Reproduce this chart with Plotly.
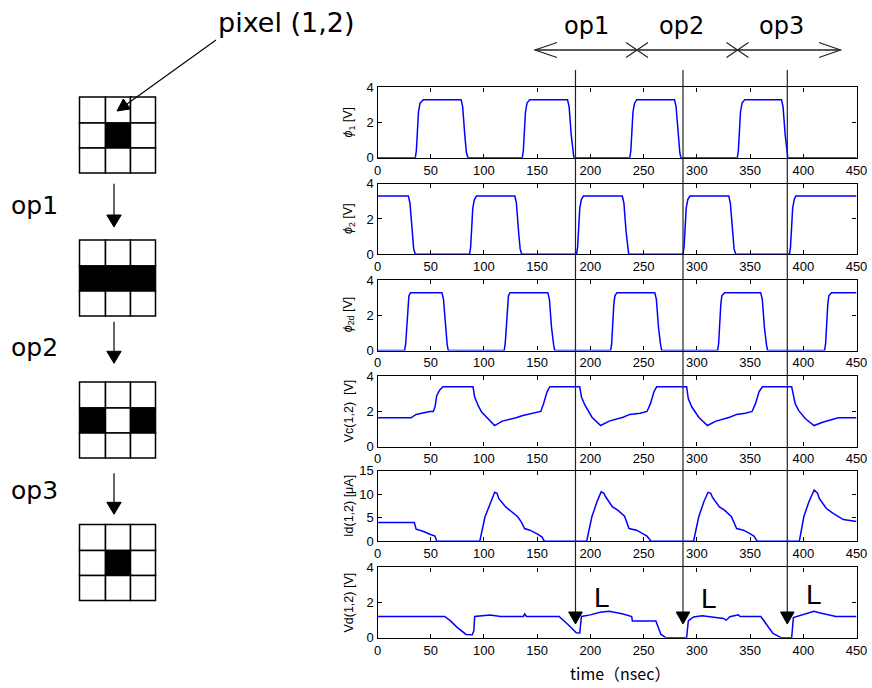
import plotly.graph_objects as go

W, H = 872, 688

# ---------------- data ----------------
X_TICKS = [0, 50, 100, 150, 200, 250, 300, 350, 400, 450]

PHI1_T = [0, 35.5, 36.5, 38.5, 40, 43, 78.5, 80, 82, 83.5, 85,
          136, 137, 139, 140.5, 143, 178.5, 180, 182, 183.5, 184.5,
          237, 238, 240, 241.5, 243.5, 279, 280.5, 282.5, 284, 285,
          338, 339, 341, 342.5, 345, 379.5, 381, 383, 384.5, 385.5, 450]
PHI1_V = [0, 0, 0.4, 2.6, 3.1, 3.3, 3.3, 2.9, 1.3, 0.3, 0,
          0, 0.4, 2.6, 3.1, 3.3, 3.3, 2.9, 1.3, 0.3, 0,
          0, 0.4, 2.6, 3.1, 3.3, 3.3, 2.9, 1.3, 0.3, 0,
          0, 0.4, 2.6, 3.1, 3.3, 3.3, 2.9, 1.3, 0.3, 0, 0]

PHI2_T = [0, 29, 30.5, 32.5, 34, 35.5,
          86.5, 87.5, 89.5, 91, 93, 129, 130.5, 132.5, 134, 135.5,
          187, 188, 190, 191.5, 193.5, 230, 231.5, 233.5, 235, 236,
          287, 288, 290, 291.5, 293.5, 330, 331.5, 333.5, 335, 336.5,
          387, 388, 390, 391.5, 393, 450]
PHI2_V = [3.3, 3.3, 2.9, 1.3, 0.3, 0,
          0, 0.4, 2.6, 3.1, 3.3, 3.3, 2.9, 1.3, 0.3, 0,
          0, 0.4, 2.6, 3.1, 3.3, 3.3, 2.9, 1.3, 0.3, 0,
          0, 0.4, 2.6, 3.1, 3.3, 3.3, 2.9, 1.3, 0.3, 0,
          0, 0.4, 2.6, 3.1, 3.3, 3.3]

PHI2D_T = [0, 25.5, 26.5, 28.5, 29.5, 31, 60.5, 62, 64, 65.5, 66.5,
           119, 120, 122, 123, 124.5, 160, 161.5, 163.5, 165.5, 166.5,
           219, 220, 222, 223, 225, 260.5, 262, 264, 266, 267,
           319.5, 320.5, 322.5, 323.5, 326, 360, 361.5, 363.5, 365.5, 366.5,
           420, 421, 423, 424, 426.5, 450]
PHI2D_V = [0, 0, 0.4, 2.6, 3.1, 3.28, 3.28, 2.9, 1.3, 0.3, 0,
           0, 0.4, 2.6, 3.1, 3.28, 3.28, 2.9, 1.3, 0.3, 0,
           0, 0.4, 2.6, 3.1, 3.28, 3.28, 2.9, 1.3, 0.3, 0,
           0, 0.4, 2.6, 3.1, 3.28, 3.28, 2.9, 1.3, 0.3, 0,
           0, 0.4, 2.6, 3.1, 3.28, 3.28]

VC_T = [0, 31.4, 36.3, 42.7, 49, 52.4, 54, 55.7, 58.3, 61.5,
        89.7, 91.3, 94.5, 97.8, 104.2, 110,
        117.2, 123.7, 130.1, 136.6, 143, 149.5, 153.4, 156, 159.3, 161.9,
        190, 191.6, 195, 201.5, 209.6, 217.7, 230.7, 237, 246.8, 253.2, 256.4, 259.7, 262.3,
        290.4, 292, 295.3, 301.8, 309.9, 318, 330.9, 337.4, 345.5, 351.9, 355.1, 358.4, 361.6,
        389.1, 392.4, 395.6, 402, 410.1, 418.2, 427.9, 432.8, 450]
VC_V = [1.63, 1.63, 1.82, 1.91, 1.99, 1.99, 2.24, 2.9, 3.2, 3.39,
        3.39, 2.81, 2.33, 1.95, 1.53, 1.19,
        1.44, 1.53, 1.63, 1.76, 1.86, 1.95, 1.99, 2.43, 3.1, 3.39,
        3.39, 2.81, 2.33, 1.66, 1.19, 1.44, 1.66, 1.82, 1.89, 1.99, 2.43, 3.1, 3.39,
        3.39, 2.71, 2.24, 1.66, 1.19, 1.44, 1.66, 1.82, 1.89, 1.99, 2.43, 3.1, 3.39,
        3.39, 2.43, 2.05, 1.57, 1.19, 1.38, 1.57, 1.63, 1.63]

ID_T = [0, 34.6, 36.3, 42.7, 49.2, 54, 55.7,
        96.1, 101, 105.9, 110.1, 112.3, 113.9, 120.4, 123.7, 131.8, 135, 138.2, 143.1, 149.6, 154.4, 156.7,
        196.5, 201.4, 206.2, 210.1, 212.7, 214.3, 220.8, 225.7, 232.1, 236.3, 243.4, 248.3, 253.2, 257,
        296.9, 301.8, 306.6, 310.5, 313.1, 314.7, 321.2, 326, 332.5, 337.4, 343.8, 348.7, 353.6, 356.8,
        396.3, 400.5, 405.3, 410.2, 413.4, 415, 421.5, 428, 432.8, 437.7, 450]
ID_V = [3.98, 3.98, 2.56, 2.13, 1.49, 1.07, 0,
        0, 5.2, 8.0, 10.4, 10.2, 9.1, 7.3, 6.75, 5.2, 4.1, 2.7, 2.35, 1.63, 0.92, 0,
        0, 5.2, 8.4, 10.5, 10.2, 9.45, 7.3, 6.6, 5.3, 2.7, 2.35, 1.78, 1.07, 0,
        0, 5.2, 8.4, 10.4, 10.2, 9.3, 7.3, 6.6, 5.2, 2.7, 2.35, 1.78, 1.07, 0,
        0, 5.2, 8.4, 10.9, 10.2, 9.1, 7.0, 5.9, 5.2, 4.6, 4.2]

VD_T = [0, 63.1, 68.6, 75.1, 83.2, 89, 90.5, 91.3, 105.9, 115.6, 137, 138.3, 139.9, 170.6,
        178.7, 186.8, 190, 191.6, 200, 209, 217.7, 230.7, 238.8, 239.4, 261.5, 266.3, 271.2,
        290.4, 292, 296.9, 305, 322.8, 325, 327.7, 331, 339, 340.7, 360.1, 366.6, 371.5, 379.6,
        389.1, 390.7, 402, 410.1, 415, 424.8, 430.6, 450]
VD_V = [1.21, 1.21, 0.96, 0.58, 0.19, 0.17, 0.4, 1.21, 1.29, 1.21, 1.21, 1.35, 1.21, 1.21,
        0.77, 0.29, 0.27, 1.21, 1.3, 1.45, 1.5, 1.35, 1.21, 0.96, 0.96, 0.19, 0,
        0, 0.96, 1.18, 1.25, 1.15, 1.1, 1.0, 1.2, 1.3, 1.21, 1.21, 0.67, 0.25, 0,
        0, 1.15, 1.38, 1.5, 1.42, 1.3, 1.21, 1.21]

Y_LABELS = ["<i>ϕ</i><sub>1</sub> [V]", "<i>ϕ</i><sub>2</sub> [V]", "<i>ϕ</i><sub>2d</sub> [V]",
            "Vc(1,2)  [V]", "Id(1,2) [μA]", "Vd(1,2) [V]"]
Y_RANGES = [[0, 4], [0, 4], [0, 4], [0, 4], [0, 15], [0, 4]]
Y_TICKS = [[0, 2, 4], [0, 2, 4], [0, 2, 4], [0, 2, 4], [0, 5, 10, 15], [0, 2, 4]]
SERIES = [(PHI1_T, PHI1_V), (PHI2_T, PHI2_V), (PHI2D_T, PHI2D_V),
          (VC_T, VC_V), (ID_T, ID_V), (VD_T, VD_V)]

OP_LABELS = ["op1", "op2", "op3"]
OP_TIMES = [186, 287, 385]          # times of the vertical markers (nsec)
PATTERNS = [  # 3x3 pixel states, 1 = black
    [[0, 0, 0], [0, 1, 0], [0, 0, 0]],
    [[0, 0, 0], [1, 1, 1], [0, 0, 0]],
    [[0, 0, 0], [1, 0, 1], [0, 0, 0]],
    [[0, 0, 0], [0, 1, 0], [0, 0, 0]],
]

# ---------------- layout helpers ----------------
def px(x):
    return x / W

def py(y):
    return 1 - y / H

def note(text, x, y, size, family, angle=0):
    return dict(text=text, x=px(x), y=py(y), xref="paper", yref="paper",
                xanchor="center", yanchor="middle", showarrow=False, textangle=angle,
                font=dict(family=family, size=size, color="black"))

ARIAL = "Liberation Sans, Arial, sans-serif"
DEJAVU = "DejaVu Sans, sans-serif"

X_LEFT, X_RIGHT = 377.5, 856.5
PANEL_TOPS = [87.3, 183.7, 280.0, 376.0, 470.7, 567.3]
PANEL_H = 70.5

fig = go.Figure()
tickfont = dict(family=ARIAL, size=13, color="black")
annotations = []

for i, (t, v) in enumerate(SERIES):
    n = "" if i == 0 else str(i + 1)
    fig.add_trace(go.Scatter(x=t, y=v, mode="lines", line=dict(color="#0000FF", width=1.5),
                             xaxis="x" + n, yaxis="y" + n, showlegend=False, hoverinfo="skip"))
    top = PANEL_TOPS[i]
    common = dict(ticks="inside", ticklen=4, tickwidth=1, tickcolor="black",
                  showline=True, linecolor="black", linewidth=1.4, mirror="allticks",
                  showgrid=False, zeroline=False, tickfont=tickfont,
                  layer="below traces", fixedrange=True, automargin=False)
    ax = dict(domain=[px(X_LEFT), px(X_RIGHT)], range=[0, 450], tickvals=X_TICKS,
              anchor="y" + n, **common)
    ay = dict(domain=[py(top + PANEL_H), py(top)], range=Y_RANGES[i], tickvals=Y_TICKS[i],
              anchor="x" + n, **common)
    fig.update_layout(**{"xaxis" + n: ax, "yaxis" + n: ay})
    annotations.append(note(Y_LABELS[i], 349, top + PANEL_H / 2, 12.5, ARIAL, angle=-90))

shapes = []

# vertical markers through the panels with arrowheads in the last panel
for t in OP_TIMES:
    shapes.append(dict(type="line", xref="x6", yref="paper", x0=t, x1=t,
                       y0=py(70), y1=py(613), line=dict(color="#222", width=1.2)))
    shapes.append(dict(type="path", xref="x6", yref="paper",
                       path=f"M {t-6.4},{py(612)} L {t+6.4},{py(612)} L {t},{py(624)} Z",
                       fillcolor="black", line=dict(color="black", width=1)))

# L labels
for (lx, ly) in [(602, 597), (709, 598), (814, 594)]:
    annotations.append(note("L", lx, ly, 28, ARIAL))

# top op1/op2/op3 double-arrow line
LY = 50
shapes.append(dict(type="line", xref="paper", yref="paper", x0=px(535), x1=px(840.5),
                   y0=py(LY), y1=py(LY), line=dict(color="#222", width=1.3)))
shapes.append(dict(type="path", xref="paper", yref="paper",
                   path=f"M {px(557)},{py(LY-7.5)} L {px(535)},{py(LY)} L {px(557)},{py(LY+7.5)}",
                   line=dict(color="#222", width=1.2)))
shapes.append(dict(type="path", xref="paper", yref="paper",
                   path=f"M {px(819)},{py(LY-7.5)} L {px(840.5)},{py(LY)} L {px(819)},{py(LY+7.5)}",
                   line=dict(color="#222", width=1.2)))
for cx in [637, 737.5]:
    shapes.append(dict(type="path", xref="paper", yref="paper",
                       path=f"M {px(cx-11)},{py(LY-7.5)} L {px(cx+11)},{py(LY+7.5)} "
                            f"M {px(cx-11)},{py(LY+7.5)} L {px(cx+11)},{py(LY-7.5)}",
                       line=dict(color="#222", width=1.2)))
for lab, cx in zip(OP_LABELS, [586.5, 681.5, 781.5]):
    annotations.append(note(lab, cx, 26, 24, DEJAVU))

# left diagram: 3x3 pixel grids
XE = [79.5, 105.5, 130.5, 155.5]
GRID_TOPS = [97, 240, 382, 524.5]
for g, top in enumerate(GRID_TOPS):
    YE = [top, top + 26, top + 51, top + 76]
    for r in range(3):
        for c in range(3):
            fill = "black" if PATTERNS[g][r][c] else "white"
            shapes.append(dict(type="rect", xref="paper", yref="paper",
                               x0=px(XE[c]), x1=px(XE[c + 1]), y0=py(YE[r + 1]), y1=py(YE[r]),
                               fillcolor=fill, line=dict(color="black", width=1.5)))

# down arrows between grids
for (y0, y1) in [(183.7, 227), (321.7, 363.3), (473.3, 514.3)]:
    shapes.append(dict(type="line", xref="paper", yref="paper", x0=px(114), x1=px(114),
                       y0=py(y0), y1=py(y1 - 10), line=dict(color="black", width=1.2)))
    shapes.append(dict(type="path", xref="paper", yref="paper",
                       path=f"M {px(106.8)},{py(y1-12)} L {px(121.2)},{py(y1-12)} L {px(114)},{py(y1)} Z",
                       fillcolor="black", line=dict(color="black", width=1)))

for lab, cy in zip(OP_LABELS, [206, 347, 490]):
    annotations.append(note(lab, 34, cy, 25, DEJAVU))

# pixel (1,2) label and pointer
annotations.append(note("pixel (1,2)", 286, 22, 27, DEJAVU))
shapes.append(dict(type="line", xref="paper", yref="paper", x0=px(216), y0=py(40),
                   x1=px(127), y1=py(104), line=dict(color="black", width=1.1)))
shapes.append(dict(type="path", xref="paper", yref="paper",
                   path=f"M {px(117)},{py(111)} L {px(130.5)},{py(108.9)} L {px(123.3)},{py(99)} Z",
                   fillcolor="black", line=dict(color="black", width=1)))

# x axis title
annotations.append(note("time（nsec）", 620, 673, 16, "Noto Sans CJK JP, sans-serif"))

fig.update_layout(width=W, height=H, autosize=False,
                  margin=dict(l=0, r=0, t=0, b=0, pad=0),
                  paper_bgcolor="white", plot_bgcolor="white",
                  shapes=shapes, annotations=annotations,
                  showlegend=False)

fig.write_html("out.html")
